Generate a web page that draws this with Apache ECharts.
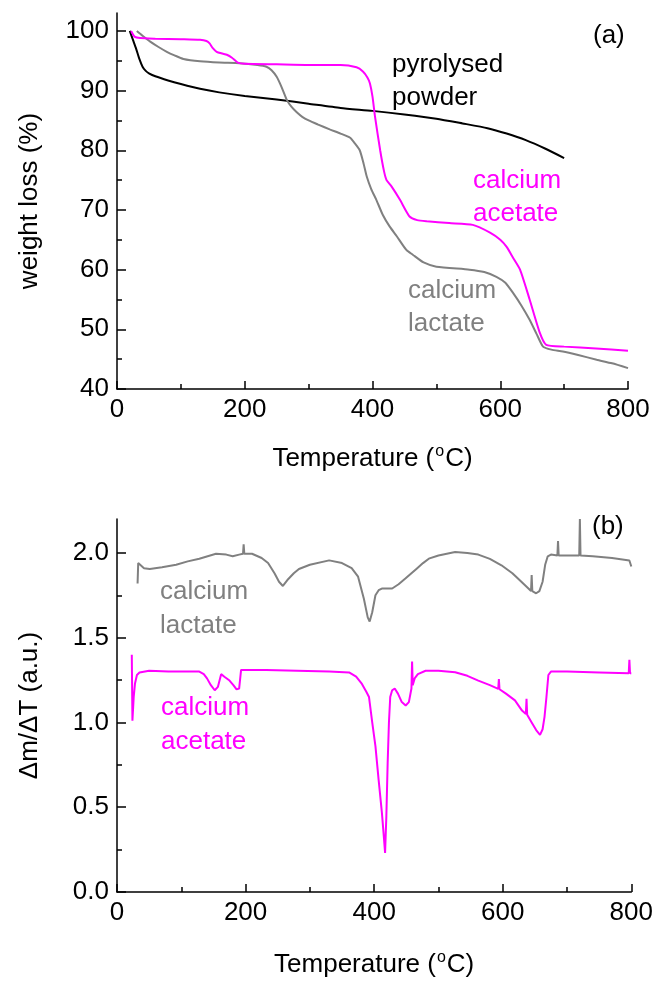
<!DOCTYPE html>
<html>
<head>
<meta charset="utf-8">
<title>TGA / DTG</title>
<script src="https://cdn.jsdelivr.net/npm/echarts@6/dist/echarts.min.js"></script>
<style>
  html, body { margin: 0; padding: 0; background: #fff; }
  #chart { width: 656px; height: 981px; }
</style>
</head>
<body>
<div id="chart"></div>
<script>
// ---- (a) weight loss ----
const pyroT = [20, 25, 30, 35, 40, 45, 50, 60, 80, 100, 130, 160, 200, 250, 300, 350, 400, 450, 500, 541, 580, 610, 640, 670, 700];
const pyroW = [100, 98.5, 97, 95.3, 94, 93.3, 92.9, 92.4, 91.7, 91.1, 90.3, 89.7, 89.1, 88.5, 87.8, 87.1, 86.6, 86, 85.3, 84.5, 83.7, 82.8, 81.7, 80.3, 78.7];

const acetT = [22, 28, 36, 60, 100, 130, 140, 145, 150, 156, 165, 172, 180, 189, 200, 250, 300, 350, 375, 385, 392, 396, 400, 404, 412, 418, 422, 430, 443, 458, 470, 485, 520, 557, 584, 600, 610, 620, 631, 646, 662, 672, 700, 750, 800];
const acetW = [100, 99, 98.8, 98.7, 98.6, 98.5, 98.3, 97.9, 97.1, 96.5, 96.2, 96, 95.5, 94.7, 94.5, 94.4, 94.3, 94.3, 93.9, 93.2, 92.2, 91.2, 89, 85.6, 80, 76.5, 75, 73.9, 71.7, 68.9, 68.3, 68.1, 67.8, 67.5, 66.2, 65, 63.8, 62, 60, 55, 49.4, 47.4, 47.1, 46.8, 46.4];

const lactT = [31, 40, 52, 65, 78, 90, 104, 130, 160, 192, 220, 234, 242, 250, 258, 266, 273, 281, 290, 300, 315, 333, 350, 365, 372, 380, 386, 391, 398, 406, 416, 427, 438, 453, 463, 480, 500, 552, 575, 594, 608, 620, 633, 646, 657, 667, 680, 698, 722, 751, 775, 800];
const lactW = [100, 99.2, 98.2, 97.3, 96.5, 95.9, 95.3, 94.9, 94.7, 94.6, 94.3, 94, 93.4, 92.3, 90.5, 88.4, 87.3, 86.4, 85.6, 85.0, 84.3, 83.5, 82.8, 82.1, 81.2, 80, 77.8, 75.6, 73.5, 71.7, 69.2, 67.2, 65.6, 63.3, 62.5, 61.2, 60.5, 60, 59.6, 58.8, 57.8, 56.1, 54, 51.6, 49.2, 47.1, 46.6, 46.3, 45.7, 44.9, 44.3, 43.5];

// ---- (b) dm/dT ----
const dLactT = [32, 33, 36, 42, 51, 70, 92, 110, 128, 154, 170, 180, 190, 196, 197, 198, 210, 225, 235, 245, 252, 258, 265, 275, 283, 300, 330, 350, 365, 375, 384, 390, 393, 397, 402, 407, 412, 420, 428, 438, 449, 458, 467, 476, 485, 500, 526, 545, 562, 580, 598, 615, 629, 640, 644, 645, 646, 652, 657, 662, 666, 670, 675, 685, 686, 687, 700, 719, 720, 721, 740, 770, 797, 800];
const dLactV = [1.82, 1.94, 1.95, 1.91, 1.905, 1.915, 1.93, 1.95, 1.966, 1.995, 1.99, 1.98, 1.99, 1.995, 2.05, 1.995, 1.995, 1.97, 1.94, 1.88, 1.83, 1.805, 1.84, 1.88, 1.905, 1.93, 1.956, 1.94, 1.91, 1.86, 1.73, 1.62, 1.595, 1.65, 1.75, 1.78, 1.79, 1.79, 1.79, 1.815, 1.85, 1.88, 1.91, 1.94, 1.966, 1.985, 2.005, 2.0, 1.99, 1.965, 1.927, 1.88, 1.83, 1.79, 1.775, 1.87, 1.775, 1.762, 1.775, 1.83, 1.93, 1.98, 1.99, 1.985, 2.07, 1.985, 1.985, 1.985, 2.2, 1.985, 1.98, 1.97, 1.955, 1.92];

const dAcetT = [23, 24, 26, 28, 31, 35, 50, 80, 110, 128, 135, 140, 146, 152, 157, 162, 167, 175, 181, 186, 190, 193, 200, 232, 280, 330, 361, 372, 381, 388, 392, 397, 402, 407, 412, 415, 417, 419, 421, 423, 425, 428, 432, 437, 443, 449, 454, 458, 459, 460, 463, 468, 480, 500, 526, 545, 562, 580, 593, 594, 595, 605, 619, 630, 636, 637, 638, 645, 652, 658, 662, 665, 668, 671, 675, 700, 750, 796, 797, 798, 800];
const dAcetV = [1.40, 1.01, 1.15, 1.23, 1.28, 1.295, 1.305, 1.30, 1.30, 1.30, 1.285, 1.26, 1.22, 1.19, 1.21, 1.285, 1.27, 1.247, 1.22, 1.195, 1.2, 1.31, 1.31, 1.309, 1.305, 1.30, 1.295, 1.27, 1.227, 1.18, 1.15, 1.0, 0.86, 0.66, 0.47, 0.33, 0.23, 0.45, 0.76, 1.0, 1.15, 1.19, 1.2, 1.17, 1.12, 1.10, 1.12, 1.2, 1.36, 1.22, 1.26, 1.285, 1.305, 1.305, 1.296, 1.275, 1.247, 1.22, 1.198, 1.256, 1.196, 1.17, 1.13, 1.07, 1.05, 1.14, 1.045, 1.0, 0.955, 0.927, 0.96, 1.033, 1.15, 1.28, 1.3, 1.3, 1.295, 1.29, 1.37, 1.29, 1.29];

// tick values
const wMajor = [40, 50, 60, 70, 80, 90, 100];
const wMinor = [45, 55, 65, 75, 85, 95];
const dMajor = [0, 0.5, 1.0, 1.5, 2.0];
const dMinor = [0.25, 0.75, 1.25, 1.75];

const zip = (xs, ys) => xs.map((x, i) => [x, ys[i]]);

const FONT = "'Liberation Sans', Arial, sans-serif";
const MAGENTA = '#ff00ff';
const GRAY = '#808080';

const chart = echarts.init(document.getElementById('chart'), null, { renderer: 'canvas' });

const axisLine = { show: true, lineStyle: { color: '#000', width: 1.5 } };

function xAxisFor(grid, gap) {
  return {
    type: 'value', gridIndex: grid, min: 0, max: 800, interval: 200,
    axisLine: axisLine,
    axisTick: { inside: true, length: 8, lineStyle: { color: '#000', width: 1.5 } },
    minorTick: { show: true, splitNumber: 2, length: 5, lineStyle: { color: '#000', width: 1.5 } },
    axisLabel: { fontSize: 26, color: '#000', fontFamily: FONT, margin: 8 },
    splitLine: { show: false },
    name: 'Temperature ({sup|o}C)',
    nameLocation: 'middle',
    nameGap: gap,
    nameTextStyle: {
      fontSize: 26, color: '#000', fontFamily: FONT, lineHeight: 30,
      rich: { sup: { fontSize: 16, fontFamily: FONT, color: '#000', verticalAlign: 'top', lineHeight: 30, padding: [0, 1, 12, 1] } }
    }
  };
}

// main y axis: line, labels, long ticks
function yMain(grid, min, max, major, name, fmt) {
  return {
    type: 'value', gridIndex: grid, position: 'left', min: min, max: max,
    axisLine: axisLine,
    axisTick: { inside: true, length: 9, customValues: major, lineStyle: { color: '#000', width: 1.5 } },
    axisLabel: { customValues: major, fontSize: 26, color: '#000', fontFamily: FONT, margin: 8, formatter: fmt },
    splitLine: { show: false },
    name: name, nameLocation: 'middle', nameGap: 74,
    nameTextStyle: { fontSize: 26, color: '#000', fontFamily: FONT }
  };
}
// helper y axis: only the short ticks
function yMinor(grid, min, max, minor) {
  return {
    type: 'value', gridIndex: grid, position: 'left', min: min, max: max,
    axisLine: { show: false },
    axisTick: { show: true, inside: true, length: 5, customValues: minor, lineStyle: { color: '#000', width: 1.5 } },
    axisLabel: { show: false },
    splitLine: { show: false }
  };
}

function label(text, x, y, color) {
  return {
    type: 'text', x: x, y: y,
    style: { text: text, fill: color, font: '26px ' + FONT, textAlign: 'left', textVerticalAlign: 'middle', align: 'left', verticalAlign: 'middle' }
  };
}

function line(name, data, color, x, y, smooth) {
  return {
    name: name, type: 'line', xAxisIndex: x, yAxisIndex: y, data: data,
    showSymbol: false, smooth: smooth,
    lineStyle: { color: color, width: 2 }, itemStyle: { color: color }
  };
}

const options = {
  animation: false,
  backgroundColor: '#fff',
  grid: [
    { left: 117, top: 13, width: 511, height: 376 },
    { left: 117, top: 519, width: 516, height: 378 }
  ],
  xAxis: [xAxisFor(0, 55), xAxisFor(1, 58)],
  yAxis: [
    yMain(0, 40, 103, wMajor, 'weight loss (%)', v => String(v)),
    yMinor(0, 40, 103, wMinor),
    yMain(1, 0, 2.2, dMajor, 'Δm/ΔT (a.u.)', v => v.toFixed(1)),
    yMinor(1, 0, 2.2, dMinor)
  ],
  series: [
    line('pyrolysed powder', zip(pyroT, pyroW), '#000', 0, 0, 0.2),
    line('calcium lactate', zip(lactT, lactW), GRAY, 0, 0, 0.2),
    line('calcium acetate', zip(acetT, acetW), MAGENTA, 0, 0, 0.2),
    line('calcium lactate dm/dT', zip(dLactT, dLactV), GRAY, 1, 2, false),
    line('calcium acetate dm/dT', zip(dAcetT, dAcetV), MAGENTA, 1, 2, false)
  ],
  graphic: [
    label('(a)', 593, 36, '#000'),
    label('pyrolysed', 392, 65, '#000'),
    label('powder', 392, 98, '#000'),
    label('calcium', 473, 181, MAGENTA),
    label('acetate', 473, 214, MAGENTA),
    label('calcium', 408, 291, GRAY),
    label('lactate', 408, 324, GRAY),
    label('(b)', 592, 527, '#000'),
    label('calcium', 160, 592, GRAY),
    label('lactate', 160, 626, GRAY),
    label('calcium', 161, 708, MAGENTA),
    label('acetate', 161, 742, MAGENTA)
  ]
};

chart.setOption(options);
</script>
</body>
</html>
